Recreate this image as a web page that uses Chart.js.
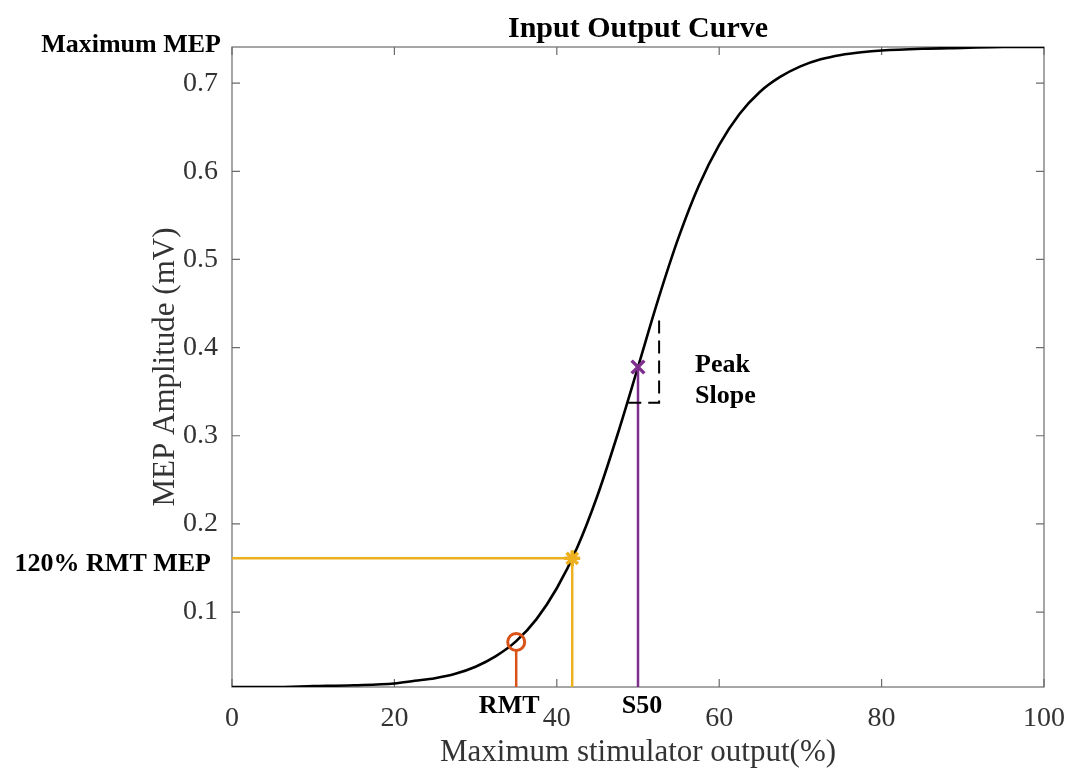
<!DOCTYPE html>
<html><head><meta charset="utf-8">
<script src="https://cdn.jsdelivr.net/npm/chart.js@4/dist/chart.umd.min.js"></script>
<style>html,body{margin:0;padding:0;background:#fff}canvas{display:block}</style>
</head><body>
<canvas id="c" width="1070" height="771"></canvas>
<script>
// ---- data ----
const stimulus = [0,5,10,15,20,22.5,25,27.5,30,32.5,35,37.5,40,42.5,45,47.5,50,52.5,55,57.5,60,62.5,65,67.5,70,72.5,75,77.5,80,85,90,95,100];
const mepAmplitude = [0.015,0.015,0.016,0.017,0.019,0.022,0.025,0.030,0.038,0.050,0.067,0.092,0.127,0.173,0.232,0.302,0.378,0.455,0.525,0.584,0.630,0.665,0.690,0.707,0.719,0.727,0.732,0.735,0.737,0.739,0.740,0.741,0.741];
const xTicks = [0,20,40,60,80,100];
const yTicks = [0.1,0.2,0.3,0.4,0.5,0.6,0.7];
const xRange = [0,100];
const yRange = [0.015,0.741];
const rmtPoint = [35, 0.066];
const rmtStemTop = [0.056];
const rmt120Point = [41.9, 0.161];
const s50Point = [50, 0.378];
const peakSlopeX = [48.8, 52.6, 52.6];
const peakSlopeY = [0.3375, 0.3375, 0.432];
const titleText = ['Input Output Curve'];
const axisTitles = ['Maximum stimulator output(%)', 'MEP Amplitude (mV)'];
const annotationTexts = ['Maximum MEP', '120% RMT MEP', 'RMT', 'S50', 'Peak', 'Slope'];

const ORANGE = '#D95319', YELLOW = '#EDB120', PURPLE = '#7E2F8E';
const SERIF = '"Liberation Serif", "Times New Roman", serif';

const seg = (xs, ys) => xs.map((v, i) => ({x: v, y: ys[i]}));

const frame = {
  id: 'frame',
  beforeDatasetsDraw(chart) {
    const {ctx, chartArea: {left, right, top, bottom}, scales: {x, y}} = chart;
    ctx.save();
    ctx.strokeStyle = '#6b6b6b';
    ctx.lineWidth = 1.2;
    ctx.strokeRect(left, top, right - left, bottom - top);
    ctx.beginPath();
    for (const t of x.ticks) {
      const px = x.getPixelForValue(t.value);
      ctx.moveTo(px, bottom); ctx.lineTo(px, bottom - 8);
      ctx.moveTo(px, top); ctx.lineTo(px, top + 8);
    }
    for (const t of y.ticks) {
      const py = y.getPixelForValue(t.value);
      ctx.moveTo(left, py); ctx.lineTo(left + 8, py);
      ctx.moveTo(right, py); ctx.lineTo(right - 8, py);
    }
    ctx.stroke();
    ctx.restore();
  },
  afterDraw(chart) {
    const {ctx, chartArea: {left, top, bottom}, scales: {x, y}} = chart;
    ctx.save();
    ctx.fillStyle = '#000';
    ctx.font = 'bold 26px ' + SERIF;
    ctx.textBaseline = 'alphabetic';
    ctx.textAlign = 'right';
    ctx.fillText(annotationTexts[0], left - 11, top + 5);
    ctx.fillText(annotationTexts[1], left - 21, y.getPixelForValue(rmt120Point[1]) + 13);
    ctx.textAlign = 'center';
    ctx.fillText(annotationTexts[2], x.getPixelForValue(rmtPoint[0]) - 7, bottom + 26);
    ctx.fillText(annotationTexts[3], x.getPixelForValue(s50Point[0]) + 4, bottom + 26);
    ctx.textAlign = 'left';
    const px = x.getPixelForValue(peakSlopeX[2]) + 36;
    ctx.fillText(annotationTexts[4], px, y.getPixelForValue(s50Point[1]) + 5);
    ctx.fillText(annotationTexts[5], px, y.getPixelForValue(peakSlopeY[0]));
    ctx.restore();
  }
};

new Chart(document.getElementById('c'), {
  type: 'scatter',
  data: {
    datasets: [
      { data: [{x: s50Point[0], y: s50Point[1]}], pointStyle: 'crossRot', pointRadius: 9, borderColor: PURPLE, borderWidth: 3.5, backgroundColor: PURPLE },
      { data: [{x: rmt120Point[0], y: rmt120Point[1]}], pointStyle: 'star', pointRadius: 8, borderColor: YELLOW, borderWidth: 3.5, backgroundColor: YELLOW },
      { data: [{x: rmtPoint[0], y: rmtPoint[1]}], pointStyle: 'circle', pointRadius: 8.5, borderColor: ORANGE, borderWidth: 3, backgroundColor: 'rgba(0,0,0,0)' },
      { data: seg(peakSlopeX, peakSlopeY), showLine: true, borderColor: '#000', borderWidth: 2, borderDash: [13, 7], pointRadius: 0 },
      { data: seg([s50Point[0], s50Point[0]], [yRange[0], s50Point[1]]), showLine: true, borderColor: PURPLE, borderWidth: 2.5, pointRadius: 0 },
      { data: seg([rmtPoint[0], rmtPoint[0]], [yRange[0], rmtStemTop[0]]), showLine: true, borderColor: ORANGE, borderWidth: 2.5, pointRadius: 0 },
      { data: seg([rmt120Point[0], rmt120Point[0]], [yRange[0], rmt120Point[1]]), showLine: true, borderColor: YELLOW, borderWidth: 2.5, pointRadius: 0 },
      { data: seg([xRange[0], rmt120Point[0]], [rmt120Point[1], rmt120Point[1]]), showLine: true, borderColor: YELLOW, borderWidth: 2.5, pointRadius: 0 },
      { data: seg(stimulus, mepAmplitude), showLine: true, borderColor: '#000', borderWidth: 2.6, pointRadius: 0, cubicInterpolationMode: 'monotone' }
    ]
  },
  options: {
    responsive: false,
    animation: false,
    devicePixelRatio: 1,
    layout: { padding: { left: 0, right: 26, top: 0, bottom: 0 } },
    plugins: {
      legend: { display: false },
      tooltip: { enabled: false },
      title: {
        display: true, text: titleText[0], fullSize: false, color: '#000',
        font: { family: SERIF, size: 30, weight: 'bold' },
        padding: { top: 11, bottom: 0 }
      }
    },
    scales: {
      x: {
        type: 'linear', min: xRange[0], max: xRange[1],
        afterBuildTicks: s => { s.ticks = xTicks.map(v => ({value: v})); },
        afterFit: s => { s.height = 84; s.paddingLeft = 0; s.paddingRight = 0; },
        grid: { display: false, drawTicks: false },
        border: { display: false },
        ticks: { color: '#333', font: { family: SERIF, size: 28 }, padding: 15, maxRotation: 0, autoSkip: false },
        title: { display: true, text: axisTitles[0], color: '#333', font: { family: SERIF, size: 31 }, padding: { top: 0, bottom: 0 } }
      },
      y: {
        type: 'linear', min: yRange[0], max: yRange[1],
        afterBuildTicks: s => { s.ticks = yTicks.map(v => ({value: v})); },
        afterFit: s => { s.width = 232; s.paddingTop = 0; s.paddingBottom = 0; },
        grid: { display: false, drawTicks: false },
        border: { display: false },
        ticks: { color: '#333', font: { family: SERIF, size: 28 }, padding: 14, autoSkip: false, callback: v => v.toFixed(1) },
        title: { display: true, text: axisTitles[1], color: '#333', font: { family: SERIF, size: 31 }, padding: { top: 147, bottom: 0 } }
      }
    }
  },
  plugins: [frame]
});
</script>
</body></html>
